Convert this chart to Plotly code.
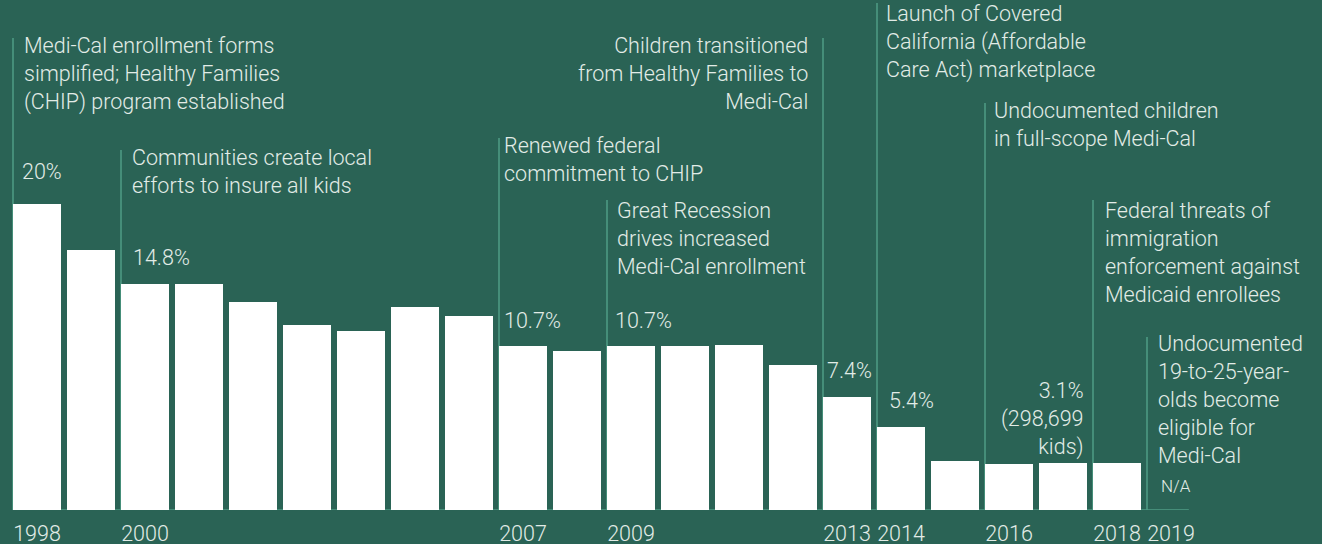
import plotly.graph_objects as go

# Share of California children without health insurance, by year
years = list(range(1998, 2020))
uninsured_pct = [20.0, 17.0, 14.8, 14.8, 13.6, 12.1, 11.7, 13.3, 12.7, 10.7, 10.4,
                 10.7, 10.7, 10.8, 9.5, 7.4, 5.4, 3.2, 3.0, 3.1, 3.1, None]
tick_years = [1998, 2000, 2007, 2009, 2013, 2014, 2016, 2018, 2019]

# Policy milestones attached to the year they happened
event_years = [1998, 2000, 2007, 2009, 2013, 2014, 2016, 2018, 2019]
event_texts = [
    "Medi-Cal enrollment forms<br>simplified; Healthy Families<br>(CHIP) program established",
    "Communities create local<br>efforts to insure all kids",
    "Renewed federal<br>commitment to CHIP",
    "Great Recession<br>drives increased<br>Medi-Cal enrollment",
    "Children transitioned<br>from Healthy Families to<br>Medi-Cal",
    "Launch of Covered<br>California (Affordable<br>Care Act) marketplace",
    "Undocumented children<br>in full-scope Medi-Cal",
    "Federal threats of<br>immigration<br>enforcement against<br>Medicaid enrollees",
    "Undocumented<br>19-to-25-year-<br>olds become<br>eligible for<br>Medi-Cal",
]

# Value call-outs
value_years = [1998, 2000, 2007, 2009, 2013, 2014, 2017, 2019]
value_texts = ["20%", "14.8%", "10.7%", "10.7%", "7.4%", "5.4%",
               "3.1%<br>(298,699<br>kids)", "N/A"]

BG = "#2a6355"
LINE = "#4f9d86"
TEXT = "#e2ece7"
FONT = "Roboto"

W, H = 1322, 544
PLOT_H = 510          # pixel height of the plotting area (baseline position)
PX_PER_UNIT = 15.3    # vertical pixels per percentage point
PITCH = 54            # pixels between bar centres
FIRST_CENTER = 37     # pixel x of the first bar centre
BAR_W = 48


def px_to_year(px):
    return years[0] + (px - FIRST_CENTER) / PITCH


def py_to_paper(py):
    return 1 - py / PLOT_H


fig = go.Figure()
fig.add_trace(go.Bar(
    x=years, y=uninsured_pct, width=BAR_W / PITCH,
    marker=dict(color="#ffffff", line=dict(width=0)),
    hoverinfo="x+y",
))

# leader line tops (pixel y) and text placement per milestone
event_line_top = {1998: 38, 2000: 150, 2007: 138, 2009: 200, 2013: 38,
                  2014: 3, 2016: 103, 2018: 200, 2019: 337}
event_text_pos = {  # (pixel x, pixel y of first line centre, align)
    1998: (23, 46, "left"), 2000: (131, 158, "left"), 2007: (503, 146, "left"),
    2009: (616, 211, "left"), 2013: (809, 46, "right"), 2014: (885, 14, "left"),
    2016: (993, 111, "left"), 2018: (1104, 211, "left"), 2019: (1157, 344, "left"),
}
value_text_pos = {
    1998: (21, 172, "left"), 2000: (132, 258, "left"), 2007: (503, 321, "left"),
    2009: (614, 321, "left"), 2013: (826, 371, "left"), 2014: (888, 401, "left"),
    2017: (1085, 391, "right"), 2019: (1160, 486, "left"),
}

shapes = []
half = BAR_W / PITCH / 2
for yr in event_years:
    xl = yr - half
    shapes.append(dict(type="line", xref="x", yref="paper", x0=xl, x1=xl,
                       y0=0, y1=py_to_paper(event_line_top[yr]),
                       line=dict(color=LINE, width=1.5), layer="below"))
# baseline
shapes.append(dict(type="line", xref="x", yref="y",
                   x0=years[0] - half, x1=years[-1] + 0.5 - 0.17, y0=0, y1=0,
                   line=dict(color=LINE, width=1.5), layer="below"))

FS = 21.5

annotations = []


def add_text(text, px, py_first, align, size=FS):
    top = py_first - size * 1.3 / 2
    annotations.append(dict(
        text=text, xref="paper", yref="paper",
        x=px / W, y=py_to_paper(top),
        xanchor=align, yanchor="top", align=align, showarrow=False,
        borderpad=0,
        font=dict(family=FONT, size=size, color=TEXT, weight=300),
    ))


for yr, txt in zip(event_years, event_texts):
    px, py, al = event_text_pos[yr]
    add_text(txt, px, py, al)
for yr, txt in zip(value_years, value_texts):
    px, py, al = value_text_pos[yr]
    add_text(txt, px, py, al, size=17 if txt == "N/A" else FS)

fig.update_layout(
    width=W, height=H,
    margin=dict(l=0, r=0, t=0, b=H - PLOT_H),
    paper_bgcolor=BG, plot_bgcolor=BG,
    showlegend=False,
    bargap=0,
    shapes=shapes,
    annotations=annotations,
    xaxis=dict(
        range=[px_to_year(0), px_to_year(W)],
        tickmode="array", tickvals=tick_years, ticktext=[str(t) for t in tick_years],
        showgrid=False, zeroline=False, showline=False, ticks="",
        tickfont=dict(family=FONT, size=FS, color=TEXT, weight=300),
        ticklabelstandoff=8, automargin=False, fixedrange=True,
    ),
    yaxis=dict(
        range=[0, PLOT_H / PX_PER_UNIT],
        showgrid=False, zeroline=False, showline=False, showticklabels=False,
        automargin=False, fixedrange=True,
    ),
)

fig.write_html("out.html")
